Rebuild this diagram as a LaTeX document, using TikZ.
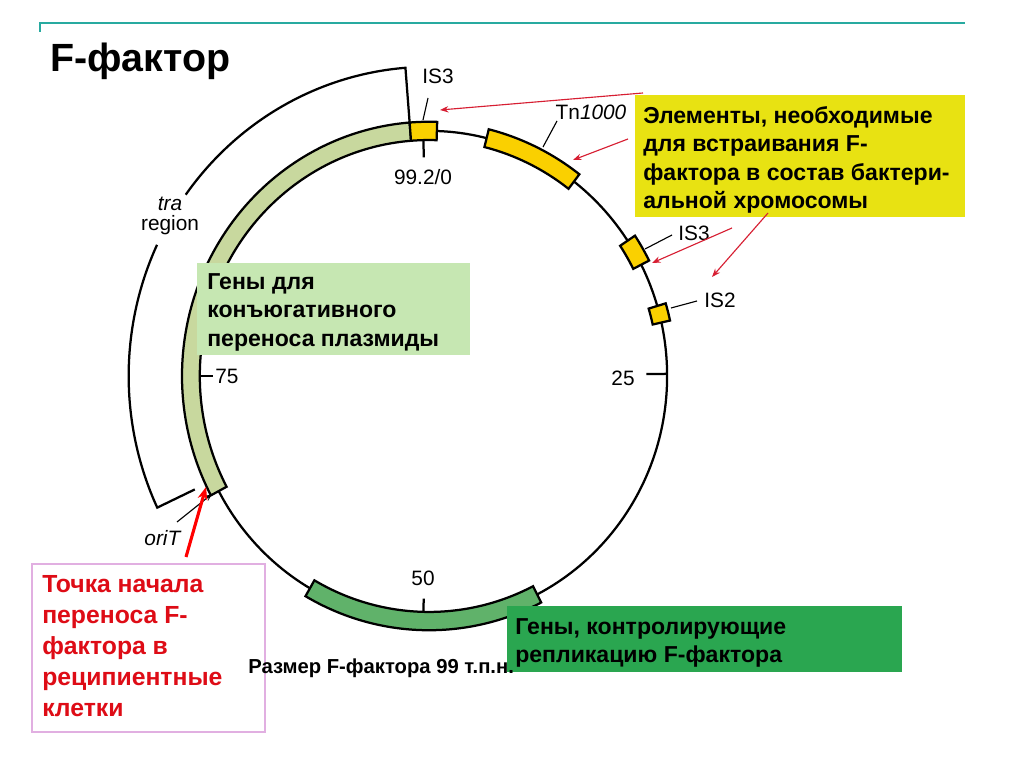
\documentclass[tikz,border=0pt]{standalone}
\usepackage{fontspec}
\setmainfont{Liberation Sans}
\usetikzlibrary{arrows.meta}

\definecolor{rulecol}{RGB}{40,170,160}
\definecolor{notefill}{RGB}{232,226,18}
\definecolor{conjfill}{RGB}{198,231,178}
\definecolor{repfill}{RGB}{42,166,80}
\definecolor{trafill}{RGB}{200,216,158}
\definecolor{orifill}{RGB}{96,178,106}
\definecolor{isfill}{RGB}{250,208,0}
\definecolor{textred}{RGB}{222,12,22}
\definecolor{arrowred}{RGB}{215,30,50}
\definecolor{pinkline}{RGB}{225,175,225}

\begin{document}
\begin{tikzpicture}[x=0.025cm,y=0.025cm,
    label/.style={inner sep=0pt,font=\fontsize{14.8}{17}\selectfont},
    boxtext/.style={inner sep=0pt,anchor=north west,align=left,font=\bfseries\fontsize{16.4}{20.3}\selectfont},
    ring/.style={line width=1.6pt},
    leader/.style={line width=0.8pt},
    pointer/.style={arrowred,line width=0.8pt,-{Stealth[length=6pt,width=4.5pt]}}]
    \fill[white] (0,0) rectangle (1024,767);
    \useasboundingbox (0,0) rectangle (1024,767);
    % rule and title
    \draw[rulecol,line width=1.5pt] (40,735) -- (40,744) -- (965,744);
    \node[anchor=base west,inner sep=0pt,font=\bfseries\fontsize{28}{34}\selectfont] (title) at (50,695) {F-фактор};

    % the plasmid ring
    \begin{scope}[shift={(429,391)},xscale=0.988,yscale=1.017]
      \def\segment#1#2#3{\draw[ring,fill=#3] (#1:232) arc[start angle=#1,end angle=#2,radius=232]
          -- (#2:250) arc[start angle=#2,end angle=#1,radius=250] -- cycle;}
      \draw[ring] (0,0) circle[radius=241];
      \segment{94.5}{208}{trafill}
      \segment{240}{297}{orifill}
      \segment{88.1}{94.5}{isfill}
      \segment{52.5}{76}{isfill}
      \segment{27}{33.5}{isfill}
      \segment{12.6}{16.6}{isfill}
      % ticks
      \draw[ring] (91.4:232) -- (91.4:215);
      \draw[ring] (0.5:241) -- (0.5:220);
      \draw[ring] (268.6:232) -- (268.6:219);
      \draw[ring] (180:232) -- (180:219);
      % tra bracket
      \draw[ring] (94.5:250) -- (94.5:304) arc[start angle=94.5,end angle=144.1,radius=304];
      \draw[ring] (154.9:304) arc[start angle=154.9,end angle=205.2,radius=304] -- (205.2:262);
    \end{scope}

    % labels on the ring
    \node[label] (istop) at (438,691) {IS3};
    \node[label] (tn) at (591,655) {Tn\textit{1000}};
    \node[label] (isright) at (694,534) {IS3};
    \node[label] (istwo) at (720,467) {IS2};
    \node[label] (zero) at (423,590) {99.2/0};
    \node[label] (q25) at (623,389) {25};
    \node[label] (q50) at (423,189) {50};
    \node[label] (q75) at (227,391) {75};
    \node[label] (tra) at (170,563) {\textit{tra}};
    \node[label] (region) at (170,542) {region};
    \node[label] (orit) at (163,229) {\textit{oriT}};

    \coordinate (istop-a) at (428,669);  \coordinate (istop-b) at (423,647);
    \coordinate (tn-a) at (557,646);     \coordinate (tn-b) at (543,620);
    \coordinate (isright-a) at (672,532); \coordinate (isright-b) at (645,518);
    \coordinate (istwo-a) at (697,466);  \coordinate (istwo-b) at (671,459);
    \coordinate (orit-a) at (177,245);   \coordinate (orit-b) at (212,273);
    \draw[leader] (istop-a) -- (istop-b);
    \draw[leader] (tn-a) -- (tn-b);
    \draw[leader] (isright-a) -- (isright-b);
    \draw[leader] (istwo-a) -- (istwo-b);
    \draw[leader,-{Stealth[length=5pt,width=4pt]}] (orit-a) -- (orit-b);

    % note boxes
    \fill[conjfill] (197,412) rectangle (470,504);
    \node[boxtext] (conj) at (207,494) {Гены для\\конъюгативного\\переноса плазмиды};
    \fill[notefill] (635,550) rectangle (965,672);
    \node[boxtext] (elem) at (643,661) {Элементы, необходимые\\для встраивания F-\\фактора в состав бактери-\\альной хромосомы};
    \fill[repfill] (507,95) rectangle (902,161);
    \node[boxtext] (rep) at (515,149) {Гены, контролирующие\\репликацию F-фактора};
    \draw[pinkline,fill=white,line width=0.8pt] (32,35) rectangle (265,203);
    \node[boxtext,text=textred,font=\bfseries\fontsize{17.6}{22}\selectfont] (start) at (42,192)
        {Точка начала\\переноса F-\\фактора в\\реципиентные\\клетки};
    \node[anchor=base west,inner sep=0pt,font=\bfseries\fontsize{14.4}{16}\selectfont] (size) at (248,93)
        {Размер F-фактора 99 т.п.н.};

    % red pointers
    \coordinate (e1) at (643,674); \coordinate (t1) at (440,657);
    \coordinate (e2) at (628,628); \coordinate (t2) at (573,607);
    \coordinate (e3) at (732,539); \coordinate (t3) at (652,504);
    \coordinate (e4) at (768,554); \coordinate (t4) at (712,490);
    \draw[pointer] (e1) -- (t1);
    \draw[pointer] (e2) -- (t2);
    \draw[pointer] (e3) -- (t3);
    \draw[pointer] (e4) -- (t4);
    \coordinate (s1) at (186,210); \coordinate (ori) at (206,280);
    \draw[red,line width=2.2pt,-{Stealth[length=9pt,width=7pt]}] (s1) -- (ori);
\end{tikzpicture}
\end{document}
